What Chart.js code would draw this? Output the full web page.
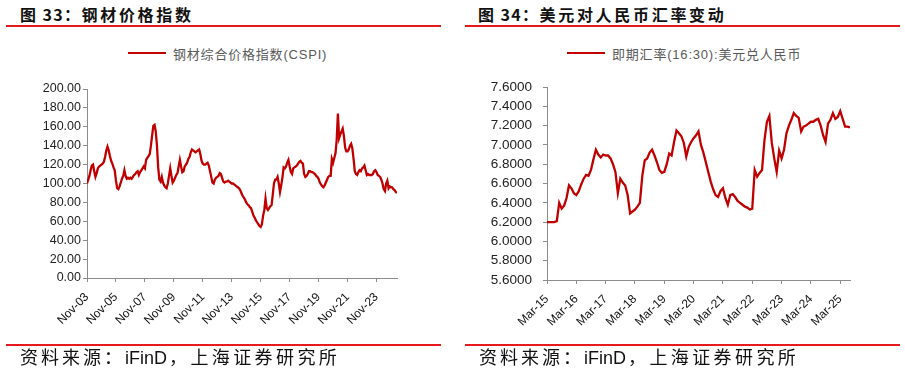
<!DOCTYPE html>
<html>
<head>
<meta charset="utf-8">
<script src="https://cdn.jsdelivr.net/npm/chart.js@4.4.0/dist/chart.umd.min.js"></script>
<style>
  html, body { margin: 0; padding: 0; background: #fff; }
  #wrap { position: relative; width: 905px; height: 375px; overflow: hidden; font-family: "Liberation Sans", Arial, "Noto Sans CJK SC", sans-serif; }
  .title { position: absolute; top: 5px; font-family: "Noto Sans CJK SC", sans-serif; font-weight: 700; font-size: 16px; line-height: 18px; color: #111; white-space: nowrap; letter-spacing: 1.4px; }
  .title span { letter-spacing: 2.7px; }
  .rule { position: absolute; height: 2px; background: #e8191e; }
  .legend { position: absolute; top: 44px; height: 18px; display: flex; align-items: center; white-space: nowrap; font-size: 13px; color: #595959; letter-spacing: 0.8px; }
  .legend i { display: inline-block; width: 38px; height: 2px; background: #c00000; margin-right: 7px; }
  .src { position: absolute; top: 347px; font-family: "Liberation Sans", Arial, "Noto Sans CJK SC", sans-serif; font-size: 18px; line-height: 22px; color: #111; letter-spacing: 3px; white-space: nowrap; }
  .src b { font-weight: 400; letter-spacing: 0; margin-right: 2px; }
  .src em { font-style: normal; letter-spacing: 3.4px; }
  canvas { position: absolute; top: 0; }
</style>
</head>
<body>
<div id="wrap">
  <div class="title" style="left:20px">图 33：<span>钢材价格指数</span></div>
  <div class="rule" style="left:6px;top:25px;width:435px"></div>
  <div class="legend" style="left:128px"><i></i><span>钢材综合价格指数(CSPI)</span></div>

  <div class="title" style="left:478px">图 34：<span>美元对人民币汇率变动</span></div>
  <div class="rule" style="left:465px;top:25px;width:435px"></div>
  <div class="legend" style="left:567px"><i></i><span>即期汇率(16:30):美元兑人民币</span></div>

  <canvas id="ChartCanvas1" width="450" height="345" style="left:0"></canvas>
  <canvas id="ChartCanvas2" width="455" height="345" style="left:450px"></canvas>

  <div class="rule" style="left:6px;top:344px;width:435px"></div>
  <div class="src" style="left:20px">资料来源：<b>iFinD</b><em>，上海证券研究所</em></div>
  <div class="rule" style="left:465px;top:344px;width:435px"></div>
  <div class="src" style="left:479px">资料来源：<b>iFinD</b><em>，上海证券研究所</em></div>
</div>

<script>
// steel price index, monthly from Nov-03
const cspiLabels = ['Nov-03', 'Nov-05', 'Nov-07', 'Nov-09', 'Nov-11', 'Nov-13', 'Nov-15', 'Nov-17', 'Nov-19', 'Nov-21', 'Nov-23'];
const cspi = [
    100, 104,
    108, 114, 119, 120, 113, 107, 111, 116, 118, 119, 120, 121,   // 2004
    123, 128, 135, 139, 135, 129, 124, 121, 117, 114, 103, 95,    // 2005
    94, 97, 101, 105, 108, 114, 108, 105, 106, 105, 106, 105,     // 2006
    107, 109, 110, 112, 113, 109, 112, 114, 116, 118, 116, 125,   // 2007
    127, 129, 131, 140, 151, 161, 162, 155, 140, 117, 104, 102,   // 2008
    107, 101, 98, 96, 95, 100, 108, 116, 108, 101, 103, 106,      // 2009
    109, 111, 118, 125, 118, 112, 113, 118, 120, 122, 126, 128,   // 2010
    133, 136, 135, 134, 133, 134, 135, 136, 131, 124, 121, 120,   // 2011
    120, 121, 122, 119, 113, 107, 101, 100, 104, 106, 107, 108,   // 2012
    111, 110, 106, 102, 101, 102, 102, 103, 102, 101, 100, 100,   // 2013
    99, 98, 97, 96, 95, 93, 90, 87, 85, 83, 80, 78,               // 2014
    77, 75, 74, 70, 66, 64, 61, 59, 57, 55, 54, 57,               // 2015
    66, 72, 84, 74, 72, 74, 76, 77, 88, 100, 104, 104,            // 2016
    107, 100, 91, 98, 106, 117, 116, 118, 122, 125, 118, 112,     // 2017
    110, 116, 117, 118, 119, 121, 123, 124, 122, 121, 110, 107,   // 2018
    108, 110, 113, 113, 112, 112, 111, 110, 108, 107, 105, 101,   // 2019
    99, 97, 96, 98, 101, 104, 107, 108, 108, 126, 122, 127,       // 2020
    132, 146, 174, 148, 152, 155, 158, 150, 138, 134, 134, 136,   // 2021
    140, 142, 137, 126, 113, 110, 109, 112, 114, 113, 116, 117,   // 2022
    119, 114, 109, 110, 109, 109, 109, 110, 113, 114, 112, 109,   // 2023
    108, 107, 104, 100, 94, 92, 100, 103, 95, 97, 96, 96,         // 2024
    94, 93, 91, 90                                                // 2025
];

// USD/CNY spot, monthly from Mar-15
const fxLabels = ['Mar-15', 'Mar-16', 'Mar-17', 'Mar-18', 'Mar-19', 'Mar-20', 'Mar-21', 'Mar-22', 'Mar-23', 'Mar-24', 'Mar-25'];
const usdcny = [
    6.20, 6.20, 6.20, 6.20, 6.21, 6.40, 6.34, 6.37, 6.45, 6.58,
    6.55, 6.50, 6.48, 6.52, 6.59, 6.65, 6.69, 6.68, 6.74, 6.85, 6.95, 6.90,
    6.87, 6.90, 6.89, 6.89, 6.86, 6.80, 6.72, 6.50, 6.65, 6.61, 6.58, 6.48,
    6.29, 6.31, 6.33, 6.36, 6.40, 6.68, 6.84, 6.86, 6.92, 6.95, 6.89, 6.82,
    6.74, 6.71, 6.72, 6.80, 6.91, 6.89, 7.03, 7.15, 7.12, 7.09, 7.02, 6.88,
    6.98, 7.03, 7.07, 7.10, 7.14, 7.00, 6.92, 6.82, 6.72, 6.62, 6.54, 6.48,
    6.46, 6.52, 6.55, 6.45, 6.38, 6.48, 6.49, 6.46, 6.42, 6.40, 6.38, 6.36,
    6.35, 6.33, 6.34, 6.74, 6.67, 6.71, 6.74, 7.05, 7.24, 7.30, 7.02, 6.86,
    6.72, 6.94, 6.86, 6.95, 7.12, 7.20, 7.26, 7.33, 7.30, 7.28, 7.14, 7.19,
    7.20, 7.22, 7.24, 7.24, 7.26, 7.27, 7.20, 7.10, 7.03, 7.22, 7.26, 7.33,
    7.27, 7.29, 7.35, 7.27, 7.19, 7.19, 7.18
];

Initialize();

function Initialize()
{
    Chart.defaults.font.family = '"Liberation Sans", Arial, sans-serif';
    Chart.defaults.color = '#222';

    MakeChart('ChartCanvas1', cspi, cspiLabels, 24, {
        min: 0, max: 200, step: 20, digits: 2, fontSize: 12.5, pad: 2, yWidth: 87,
        padding: { left: 0, right: 53, top: 89, bottom: 17 }
    });
    MakeChart('ChartCanvas2', usdcny, fxLabels, 12, {
        min: 5.6, max: 7.6, step: 0.2, digits: 4, fontSize: 13.5, pad: 11, yWidth: 97,
        padding: { left: 0, right: 55, top: 87, bottom: 15 }
    });
}

function MakeChart(id, values, tickLabels, every, o)
{
    const ctx = document.getElementById(id).getContext('2d');
    const axisColor = '#8c8c8c';

    return new Chart(ctx,
    {
        type: 'line',
        data: {
            datasets: [{
                data: values.map((v, i) => ({ x: i, y: v })),
                borderColor: '#c00000',
                borderWidth: 2.3,
                pointRadius: 0,
                tension: 0
            }]
        },
        options: {
            responsive: false,
            animation: false,
            layout: { padding: o.padding },
            plugins: { legend: { display: false }, tooltip: { enabled: false } },
            scales: {
                x: {
                    type: 'linear',
                    min: 0,
                    max: values.length - 1,
                    afterFit: s => { s.height = 50; },
                    grid: { drawOnChartArea: false, color: axisColor, tickLength: 4 },
                    border: { color: axisColor },
                    ticks: {
                        stepSize: every,
                        includeBounds: false,
                        autoSkip: false,
                        maxRotation: 45,
                        minRotation: 45,
                        padding: 8,
                        color: '#111',
                        font: { size: 12 },
                        callback: v => tickLabels[v / every]
                    }
                },
                y: {
                    min: o.min,
                    max: o.max,
                    afterFit: s => { s.width = o.yWidth; },
                    grid: { drawOnChartArea: false, color: axisColor, tickLength: 4 },
                    border: { color: axisColor },
                    ticks: {
                        stepSize: o.step,
                        padding: o.pad,
                        color: '#222',
                        font: { size: o.fontSize },
                        callback: v => Number(v).toFixed(o.digits)
                    }
                }
            }
        }
    });
}
</script>
</body>
</html>
